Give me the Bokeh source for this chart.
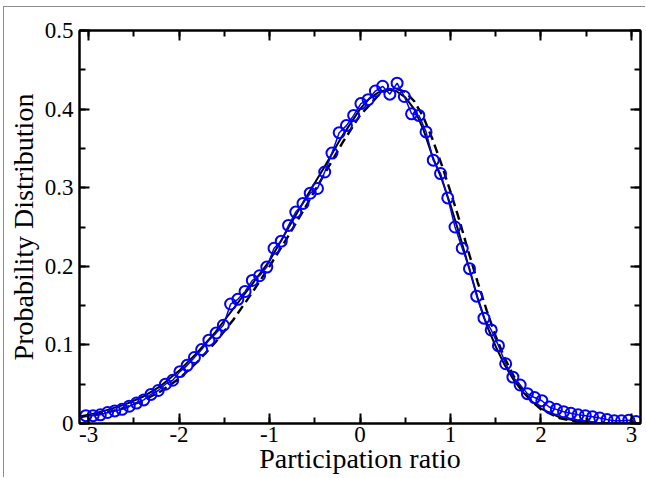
from bokeh.plotting import figure
from bokeh.models import LinearAxis, Range1d, SingleIntervalTicker, CustomJSTickFormatter
from bokeh.embed import file_html
from bokeh.resources import INLINE

# measured histogram (blue circles)
x_data = [-3.03, -2.95, -2.87, -2.79, -2.71, -2.63, -2.55, -2.47, -2.39, -2.31,
          -2.23, -2.15, -2.07, -1.99, -1.91, -1.83, -1.75, -1.67, -1.59, -1.51,
          -1.43, -1.35, -1.27, -1.19, -1.11, -1.03, -0.95, -0.87, -0.79, -0.71,
          -0.63, -0.55, -0.47, -0.39, -0.31, -0.23, -0.15, -0.07, 0.01, 0.09,
          0.17, 0.25, 0.33, 0.41, 0.49, 0.57, 0.65, 0.73, 0.81, 0.89,
          0.97, 1.05, 1.13, 1.21, 1.29, 1.37, 1.45, 1.53, 1.61, 1.69,
          1.77, 1.85, 1.93, 2.01, 2.09, 2.17, 2.25, 2.33, 2.41, 2.49,
          2.57, 2.65, 2.73, 2.81, 2.89, 2.97, 3.05]
y_data = [0.010, 0.010, 0.011, 0.014, 0.016, 0.018, 0.022, 0.026, 0.030, 0.037,
          0.042, 0.050, 0.055, 0.066, 0.074, 0.084, 0.094, 0.106, 0.115, 0.125,
          0.152, 0.158, 0.168, 0.182, 0.188, 0.199, 0.223, 0.232, 0.252, 0.269,
          0.280, 0.293, 0.299, 0.320, 0.344, 0.370, 0.379, 0.392, 0.407, 0.412,
          0.423, 0.429, 0.419, 0.433, 0.416, 0.394, 0.392, 0.371, 0.335, 0.318,
          0.287, 0.250, 0.223, 0.197, 0.162, 0.134, 0.119, 0.099, 0.076, 0.059,
          0.049, 0.038, 0.033, 0.029, 0.021, 0.018, 0.015, 0.013, 0.011, 0.010,
          0.0085, 0.007, 0.005, 0.0035, 0.0035, 0.004, 0.0025]

# solid black fit
fit_x = [-3.1, -3.0, -2.8, -2.6, -2.4, -2.2, -2.0, -1.8, -1.6, -1.4, -1.2, -1.0,
         -0.8, -0.6, -0.4, -0.2, 0.0, 0.1, 0.2, 0.3, 0.4, 0.5, 0.6, 0.7, 0.8,
         0.9, 1.0, 1.1, 1.2, 1.3, 1.4, 1.5, 1.6, 1.7, 1.8, 1.9, 2.0, 2.2, 2.4,
         2.6, 2.8, 3.0, 3.1]
fit_y = [0.009, 0.011, 0.017, 0.024, 0.034, 0.048, 0.067, 0.090, 0.116, 0.146,
         0.176, 0.207, 0.247, 0.287, 0.325, 0.365, 0.400, 0.413, 0.421, 0.425,
         0.423, 0.415, 0.400, 0.374, 0.340, 0.312, 0.278, 0.240, 0.200, 0.160,
         0.125, 0.098, 0.074, 0.055, 0.040, 0.028, 0.019, 0.008, 0.003,
         0.001, 0.0003, 0.0001, 0.0]

# dashed black curve
dash_x = [-3.1, -3.0, -2.8, -2.6, -2.4, -2.2, -2.0, -1.8, -1.6, -1.4, -1.2, -1.0,
          -0.8, -0.6, -0.4, -0.2, 0.0, 0.2, 0.3, 0.4, 0.5, 0.6, 0.7, 0.8, 0.9,
          1.0, 1.1, 1.2, 1.3, 1.4, 1.5, 1.6, 1.7, 1.8, 1.9, 2.0, 2.2, 2.4, 2.6,
          2.8, 3.0, 3.1]
dash_y = [0.008, 0.010, 0.014, 0.020, 0.029, 0.041, 0.057, 0.078, 0.103, 0.132,
          0.165, 0.200, 0.237, 0.276, 0.316, 0.356, 0.392, 0.417, 0.424, 0.426,
          0.422, 0.410, 0.390, 0.362, 0.330, 0.295, 0.258, 0.218, 0.180, 0.144,
          0.111, 0.083, 0.060, 0.042, 0.028, 0.018, 0.007, 0.002, 0.0005,
          0.0001, 0.0, 0.0]

x_label = "Participation ratio"
y_label = "Probability Distribution"

FONT = "Liberation Serif"

p = figure(width=642, height=471, x_range=Range1d(-3.1, 3.1), y_range=Range1d(0, 0.5),
           output_backend="svg", toolbar_location=None,
           min_border_left=75, min_border_right=6, min_border_top=23, min_border_bottom=55)
p.margin = (6, 0, 0, 3)
p.styles = {"border-left": "1px solid #8c8c8c", "border-top": "1px solid #8c8c8c"}
p.grid.visible = False
p.outline_line_color = "black"
p.outline_line_width = 2
p.background_fill_color = "white"
p.border_fill_color = "white"

p.line(fit_x, fit_y, line_color="black", line_width=2)
p.line(dash_x, dash_y, line_color="black", line_width=2.4, line_dash="9 5")
p.line(x_data, y_data, line_color="#0000ff", line_width=1.5)
p.scatter(x_data, y_data, marker="circle", size=11, fill_color=None,
          line_color="#0000ff", line_width=2)

bottom = p.below[0]
left = p.left[0]
bottom.ticker = SingleIntervalTicker(interval=1, num_minor_ticks=2)
left.ticker = SingleIntervalTicker(interval=0.1, num_minor_ticks=2)
bottom.formatter = CustomJSTickFormatter(code="return tick.toFixed(0);")
left.formatter = CustomJSTickFormatter(code="return Math.abs(tick) < 1e-9 ? '0' : tick.toFixed(1);")

blank = CustomJSTickFormatter(code="return '';")
top = LinearAxis(ticker=SingleIntervalTicker(interval=1, num_minor_ticks=2), formatter=blank)
right = LinearAxis(ticker=SingleIntervalTicker(interval=0.1, num_minor_ticks=2), formatter=blank)
for ax in (top, right):
    ax.major_label_standoff = 0
p.add_layout(top, "above")
p.add_layout(right, "right")

for ax in (bottom, left, top, right):
    ax.axis_line_width = 2
    ax.axis_line_color = "black"
    ax.major_tick_in = 10
    ax.major_tick_out = 0
    ax.minor_tick_in = 6
    ax.minor_tick_out = 0
    ax.major_tick_line_width = 2
    ax.minor_tick_line_width = 2
    ax.major_tick_line_color = "black"
    ax.minor_tick_line_color = "black"
    ax.major_label_text_font = FONT
    ax.major_label_text_color = "black"
    ax.axis_label_text_font = FONT
    ax.axis_label_text_font_style = "normal"
    ax.axis_label_text_color = "black"

bottom.axis_label = x_label
left.axis_label = y_label
bottom.major_label_text_font_size = "23px"
left.major_label_text_font_size = "23px"
bottom.axis_label_text_font_size = "28px"
left.axis_label_text_font_size = "28px"
bottom.major_label_standoff = 3
left.major_label_standoff = 6
bottom.axis_label_standoff = -2
left.axis_label_standoff = 3

open("out.html", "w").write(file_html(p, INLINE))
